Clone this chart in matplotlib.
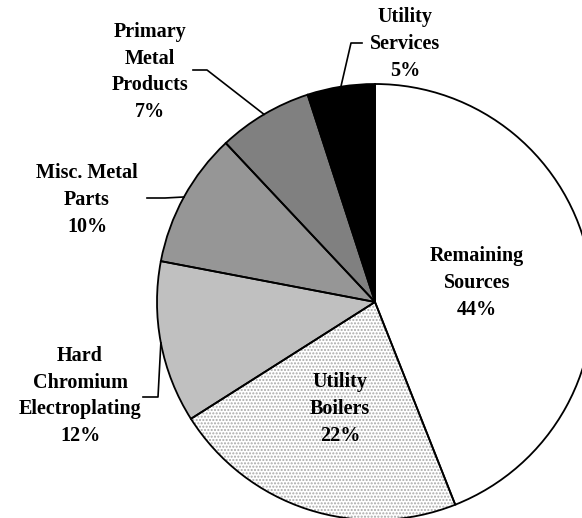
import matplotlib.pyplot as plt
import numpy as np

# Pie data (clockwise from 12 o'clock)
sources = ['Remaining\nSources', 'Utility\nBoilers', 'Hard\nChromium\nElectroplating',
           'Misc. Metal\nParts', 'Primary\nMetal\nProducts', 'Utility\nServices']
shares = [44, 22, 12, 10, 7, 5]
fills = ['#ffffff', '#ffffff', '#c0c0c0', '#969696', '#808080', '#000000']

W, H = 582, 518
fig = plt.figure(figsize=(W / 100, H / 100), dpi=100)
ax = fig.add_axes([0, 0, 1, 1])

cx, cy, r = 375, H - 302, 218

# first pass: fills + dotted texture for the boilers slice
wedges, _ = ax.pie(shares, colors=fills, startangle=90, counterclock=False,
                   center=(cx, cy), radius=r, frame=True,
                   wedgeprops=dict(linewidth=0, edgecolor='#a8a8a8'))
wedges[1].set_hatch('.....')
wedges[1].set_linewidth(0)

# second pass: black outlines
ax.pie(shares, colors=['none'] * len(shares), startangle=90, counterclock=False,
       center=(cx, cy), radius=r, frame=True,
       wedgeprops=dict(linewidth=1.3, edgecolor='black', fill=False))

font = dict(family='Liberation Serif', fontweight='bold', fontsize=14.5,
            ha='center', va='center', linespacing=1.45)

# inside labels (text centre in image pixels)
inside = {0: (477, 283), 1: (340, 409)}
for i, (x, y) in inside.items():
    ax.text(x, H - y, f'{sources[i]}\n{shares[i]}%', **font)

# outside labels: text centre, elbow, line end
outside = {
    2: ((80, 396), (158, 397), (143, 397)),
    3: ((87, 200), (165, 198), (147, 198)),
    4: ((150, 72), (207, 70), (193, 70)),
    5: ((405, 44), (351, 43), (362, 43)),
}
for i, ((tx, ty), (ex, ey), (lx, ly)) in outside.items():
    w = wedges[i]
    mid = np.deg2rad((w.theta1 + w.theta2) / 2)
    px, py = cx + r * np.cos(mid), cy + r * np.sin(mid)
    ax.plot([px, ex, lx], [py, H - ey, H - ly], color='black', lw=1.2)
    ax.text(tx, H - ty, f'{sources[i]}\n{shares[i]}%', **font)

ax.set_xlim(0, W)
ax.set_ylim(0, H)
ax.set_aspect('equal')
ax.axis('off')

fig.savefig('out.png', dpi=100)
